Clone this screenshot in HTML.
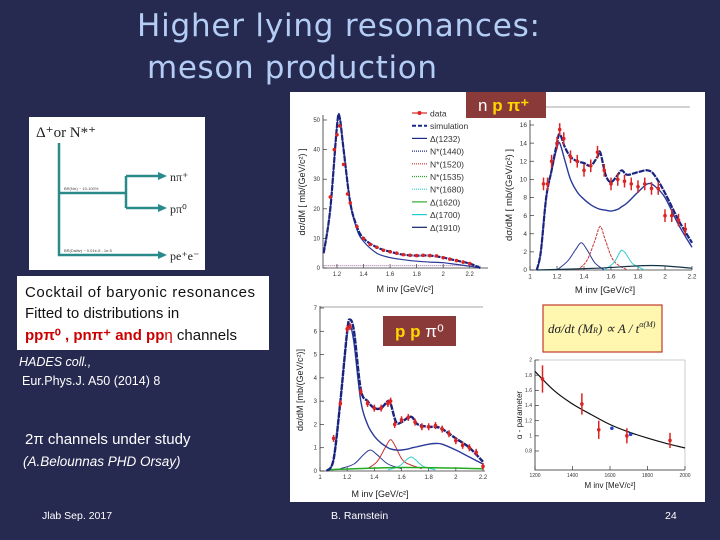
<!DOCTYPE html>
<html><head><meta charset="utf-8"><style>
body{margin:0;background:#262a50;}
#s{position:relative;width:720px;height:540px;overflow:hidden;background:#262a50;font-family:"Liberation Sans",sans-serif;}
</style></head><body>
<div id="s">
<svg id="g" width="720" height="540" viewBox="0 0 720 540" xmlns="http://www.w3.org/2000/svg">
<text x="137" y="36" font-size="31" fill="#b4cdf5" textLength="403" font-family="'DejaVu Sans',sans-serif">Higher lying resonances:</text>
<text x="147" y="78" font-size="31" fill="#b4cdf5" textLength="290" font-family="'DejaVu Sans',sans-serif">meson production</text>
<rect x="290" y="92" width="415" height="410" fill="#fff"/>
<g>
<rect x="29" y="117" width="176" height="153" fill="#fff"/>
<text x="36" y="137" font-size="15" font-family="'Liberation Serif',serif" fill="#222">Δ⁺or N*⁺</text>
<g stroke="#2a8a8a" stroke-width="2.5" fill="none">
<path d="M59 143V255H160M59 193H126M126 176V208M126 176H160M126 208H160"/></g>
<g fill="#2a8a8a"><path d="M158 172l9 4-9 4z"/><path d="M158 204l9 4-9 4z"/><path d="M158 251l9 4-9 4z"/></g>
<text x="170" y="181" font-size="12" font-family="'Liberation Serif',serif" fill="#222">nπ⁺</text>
<text x="170" y="213" font-size="12" font-family="'Liberation Serif',serif" fill="#222">pπ⁰</text>
<text x="170" y="260" font-size="12" font-family="'Liberation Serif',serif" fill="#222">pe⁺e⁻</text>
<text x="64" y="190" font-size="4" fill="#444">BR(Nπ) ~ 10-100%</text>
<text x="64" y="252" font-size="4" fill="#444">BR(Dalitz) ~ 0.01e-5 - 1e-5</text>
</g>
<g>
<rect x="17" y="276" width="252" height="74" fill="#fff"/>
<text x="25" y="297" font-size="15" fill="#111" textLength="230">Cocktail of baryonic resonances</text>
<text x="25" y="318" font-size="15" fill="#111">Fitted to distributions in</text>
<text x="25" y="340" font-size="15" fill="#111"><tspan fill="#c00" font-weight="bold">ppπ⁰ , pnπ⁺  and pp</tspan><tspan fill="#c00">η</tspan> channels</text>
</g>
<text x="19" y="366" font-size="12.5" font-style="italic" fill="#fff">HADES coll.,</text>
<text x="22" y="385" font-size="12.5" fill="#fff">Eur.Phys.J. A50 (2014) 8</text>
<text x="25" y="444" font-size="15" fill="#fff">2π channels under study</text>
<text x="23" y="466" font-size="13.5" font-style="italic" fill="#fff">(A.Belounnas PHD Orsay)</text>
<text x="42" y="519" font-size="10.5" fill="#fff">Jlab Sep. 2017</text>
<text x="331" y="519" font-size="10.5" fill="#fff">B. Ramstein</text>
<text x="665" y="519" font-size="10.5" fill="#fff">24</text>
<g><rect x="466" y="92" width="80" height="26" fill="#8b3a3a"/>
<text x="478" y="111" font-size="17" fill="#fff">n <tspan fill="#ffd700" font-weight="bold">p π⁺</tspan></text></g>
<line x1="546" y1="107" x2="690" y2="107" stroke="#888" stroke-width="0.7"/>
<line x1="320" y1="307" x2="483" y2="307" stroke="#888" stroke-width="0.7"/>
<g><rect x="383" y="316" width="73" height="30" fill="#8b3a3a"/>
<text x="395" y="337" font-size="17" fill="#fff"><tspan fill="#ffd700" font-weight="bold">p p</tspan> π⁰</text></g>
<g><rect x="543" y="305" width="119" height="47" fill="#fff6b0" stroke="#c0392b" stroke-width="1.2"/>
<text x="548" y="333" font-size="13" font-style="italic" font-family="'Liberation Serif',serif" fill="#222">dσ/dt (M<tspan font-size="8">R</tspan>) ∝ A / t<tspan font-size="8" dy="-6">α(M)</tspan></text></g>
<g id="charts"></g>
</svg>
</div>
<script>
// ---- Top-left: n p pi+ (p pi+ invariant mass) ----
const tlX=[1.1,1.15,1.2,1.22,1.25,1.3,1.35,1.4,1.5,1.6,1.7,1.8,1.9,2.0,2.1,2.2,2.28];
const tlSim=[5,20,48,51,40,22,14,10,7,5.5,4.5,4.2,4.2,3.5,2.5,1.5,0];
const tlDelta=[5,20,48,51,40,22,13,9,5,3.5,2.8,2.3,2,1.8,1.2,0.6,0];
const tlDataX=[1.15,1.18,1.2,1.22,1.25,1.28,1.3,1.35,1.4,1.45,1.5,1.55,1.6,1.65,1.7,1.75,1.8,1.85,1.9,1.95,2.0,2.05,2.1,2.15,2.2];
const tlDataY=[24,40,45,48,35,25,22,14,10,8,7,6,5.5,5,4.5,4.3,4.2,4.3,4.2,4.1,3.5,3,2.5,2,1.5];
const tlTicksX=[1.2,1.4,1.6,1.8,2,2.2];const tlTicksY=[0,10,20,30,40,50];
const legendLabels=["data","simulation","Δ(1232)","N*(1440)","N*(1520)","N*(1535)","N*(1680)","Δ(1620)","Δ(1700)","Δ(1910)"];
const legendColors=["#d22","#1a2a8a","#1a2a8a","#1a2a8a","#c33","#2a2","#3cc","#3a3","#2cc","#112266"];
// ---- Top-right: n pi+ ----
const trX=[1.05,1.08,1.12,1.16,1.2,1.22,1.26,1.3,1.35,1.4,1.45,1.5,1.52,1.56,1.6,1.65,1.68,1.72,1.8,1.87,1.92,2.0,2.1,2.2];
const trSim=[0,2,8,11,14,15,13.5,12.5,12,11.8,11.5,12.5,13,10.5,9.7,10.5,11,10.5,10.8,11,10.5,8.5,5.5,3];
const trDelta=[0,2,8,11,13.5,14,12,10,8.6,7.8,7.2,6.8,6.7,6.6,6.5,6.7,7,7.4,8.6,9.5,9.3,8,5,2.5];
const trBX=[1.2,1.28,1.34,1.38,1.42,1.48,1.55];const trBY=[0,1,2.3,3,2.3,0.8,0];
const trRX=[1.35,1.42,1.48,1.52,1.56,1.62,1.72];const trRY=[0,1,3.2,4.8,3.2,1,0];
const trCX=[1.55,1.62,1.66,1.68,1.71,1.76,1.85];const trCY=[0,0.8,1.8,2.2,1.8,0.7,0];
const trDataX=[1.1,1.13,1.16,1.2,1.22,1.25,1.3,1.35,1.4,1.45,1.5,1.55,1.6,1.65,1.7,1.75,1.8,1.85,1.9,1.95,2.0,2.05,2.1,2.15];
const trDataY=[9.5,9.5,12,14,15.5,14.5,12.5,12,11,11.5,13,11,9.5,10,9.8,9.5,9.2,9.5,9,9,6,6,5.5,4.5];
const trTicksX=[1,1.2,1.4,1.6,1.8,2,2.2];const trTicksY=[0,2,4,6,8,10,12,14,16];
// ---- Bottom-left: p p pi0 ----
const blX=[1.05,1.1,1.15,1.2,1.22,1.25,1.3,1.35,1.4,1.45,1.5,1.52,1.56,1.6,1.65,1.68,1.72,1.8,1.85,1.9,2.0,2.1,2.2];
const blSim=[0,0.5,3,6,6.5,6,3.5,3,2.7,2.7,3,2.9,2.1,2.1,2.3,2.3,2,1.9,1.9,1.8,1.4,1.0,0.4];
const blDelta=[0,0.5,3,5.9,6.3,5.5,3,2,1.5,1.2,1.0,0.95,0.9,0.9,0.95,1.0,1.05,1.15,1.18,1.15,0.9,0.6,0.3];
const blBX=[1.15,1.25,1.32,1.37,1.42,1.5,1.6];const blBY=[0.1,0.3,0.7,0.9,0.7,0.3,0.1];
const blRX=[1.35,1.42,1.48,1.52,1.56,1.62,1.75];const blRY=[0.1,0.4,1.0,1.35,1.0,0.4,0.1];
const blCX=[1.5,1.58,1.64,1.67,1.7,1.76,1.85];const blCY=[0.05,0.2,0.5,0.6,0.5,0.2,0.05];
const blDataX=[1.1,1.15,1.2,1.22,1.3,1.35,1.4,1.45,1.5,1.52,1.55,1.6,1.65,1.7,1.75,1.8,1.85,1.9,1.95,2.0,2.05,2.1,2.15,2.2];
const blDataY=[1.4,2.9,6.1,6.2,3.4,2.9,2.7,2.7,2.9,3.0,2.0,2.2,2.3,2.1,1.9,1.9,1.95,1.8,1.6,1.3,1.1,1.0,0.8,0.2];
const blTicksX=[1,1.2,1.4,1.6,1.8,2,2.2];const blTicksY=[0,1,2,3,4,5,6,7];
// ---- Bottom-right: alpha parameter ----
const brFitX=[1200,1300,1400,1500,1600,1700,1800,1900,2000];
const brFitY=[1.85,1.6,1.42,1.28,1.15,1.05,0.97,0.9,0.84];
const brPtX=[1240,1450,1540,1690,1920];const brPtY=[1.75,1.42,1.08,1.0,0.94];const brPtErr=[0.18,0.14,0.12,0.1,0.1];
const brBlueX=[1610,1710];const brBlueY=[1.1,1.02];
const brTicksX=[1200,1400,1600,1800,2000];const brTicksY=[0.8,1,1.2,1.4,1.6,1.8,2];

const NS="http://www.w3.org/2000/svg";const root=document.getElementById('charts');
function mk(t,a,p){const e=document.createElementNS(NS,t);for(const k in a)e.setAttribute(k,a[k]);(p||root).appendChild(e);return e;}
function lin(d0,d1,r0,r1){return v=>r0+(v-d0)/(d1-d0)*(r1-r0);}
function line(xs,ys,sx,sy,st,w,dash,name,g){
 const P=xs.map((x,i)=>[sx(x),sy(ys[i])]);
 let d='M'+P[0][0].toFixed(1)+' '+P[0][1].toFixed(1);
 for(let i=0;i<P.length-1;i++){const p0=P[Math.max(i-1,0)],p1=P[i],p2=P[i+1],p3=P[Math.min(i+2,P.length-1)];
  const c1=[p1[0]+(p2[0]-p0[0])/6,p1[1]+(p2[1]-p0[1])/6],c2=[p2[0]-(p3[0]-p1[0])/6,p2[1]-(p3[1]-p1[1])/6];
  d+=`C${c1[0].toFixed(1)} ${c1[1].toFixed(1)} ${c2[0].toFixed(1)} ${c2[1].toFixed(1)} ${p2[0].toFixed(1)} ${p2[1].toFixed(1)}`;}
 const e=mk('path',{d:d,fill:'none',stroke:st,'stroke-width':w,'stroke-dasharray':dash||'none'},g);
 
 return e;}
function pts(xs,ys,sx,sy,col,r,name,g,err){xs.forEach((x,i)=>{if(err){const l=mk('line',{x1:sx(x),x2:sx(x),y1:sy(ys[i]-err[i]),y2:sy(ys[i]+err[i]),stroke:col,'stroke-width':1.5},g);}
 const c=mk('circle',{cx:sx(x),cy:sy(ys[i]),r:r,fill:col},g);
 
 });}
function axes(g,x0,x1,y0,y1,sx,sy,tx,ty,fs,xl,yl,xlx,xly,ylx,yly){
 mk('path',{d:`M${x0} ${y1}V${y0}H${x1}`,fill:'none',stroke:'#333','stroke-width':0.8},g);
 tx.forEach(v=>{mk('line',{x1:sx(v),x2:sx(v),y1:y0,y2:y0-4,stroke:'#333','stroke-width':0.7},g);const t=mk('text',{x:sx(v),y:y0+fs+2,'font-size':fs,'text-anchor':'middle',fill:'#333'},g);t.textContent=v;});
 ty.forEach(v=>{mk('line',{x1:x0,x2:x0+4,y1:sy(v),y2:sy(v),stroke:'#333','stroke-width':0.7},g);const t=mk('text',{x:x0-3,y:sy(v)+fs/3,'font-size':fs,'text-anchor':'end',fill:'#333'},g);t.textContent=v;});
 const a=mk('text',{x:xlx,y:xly,'font-size':fs+3,'text-anchor':'middle',fill:'#222'},g);a.textContent=xl;
 const b=mk('text',{x:0,y:0,'font-size':fs+3,'text-anchor':'middle',fill:'#222',transform:`translate(${ylx},${yly}) rotate(-90)`},g);b.textContent=yl;}
function grp(n){const g=mk('g',{});return g;}
// TL
{const g=grp('chart-p-piplus');const sx=lin(1.1,2.3,323.7,483),sy=lin(0,50,268,120);
 axes(g,323,488,268,115,sx,sy,tlTicksX,tlTicksY,6,'M inv [GeV/c²]','dσ/dM [ mb/(GeV/c²) ]',405,292,305,192);
 line(tlX,tlX.map(()=>0.8),sx,sy,'#a6a','1','1 1','n1440-curve',g);
 line(tlX,tlDelta,sx,sy,'#2a3a9a',1.2,null,'delta1232-curve',g);
 line(tlX,tlSim,sx,sy,'#1a237e',2.2,'6 1','simulation-curve',g);
 pts(tlDataX,tlDataY,sx,sy,'#d22',1.8,'data-point',g);
 legendLabels.forEach((l,i)=>{const y=113+i*12.7;const col=legendColors[i];
  mk('line',{x1:412,x2:427,y1:y,y2:y,stroke:col,'stroke-width':i==1?2:1.2,'stroke-dasharray':(i==1?'4 2':(i>=3&&i<=6)?'1 1':'none')},g);
  if(i==0)mk('circle',{cx:419.5,cy:y,r:2,fill:col},g);
  const t=mk('text',{x:430,y:y+3.5,'font-size':8.5,fill:'#333'},g);t.textContent=l;
  
  });}
// TR
{const g=grp('chart-n-piplus');const sx=lin(1,2.2,530,692),sy=lin(0,16,270,125);
 axes(g,530,692,270,120,sx,sy,trTicksX,trTicksY,6.5,'M inv [GeV/c²]','dσ/dM [ mb/(GeV/c²) ]',605,293,512,195);
 line(trBX,trBY,sx,sy,'#2a3a9a',1,null,'n1440-curve',g);
 line(trRX,trRY,sx,sy,'#c33',1,'3 1','n1520-curve',g);
 line(trCX,trCY,sx,sy,'#3cc',1,null,'n1680-curve',g);
 line([1.05,1.5,1.9,2.2],[0,0.2,0.5,0.2],sx,sy,'#134',1.2,null,'delta1910-curve',g);
 line(trX,trDelta,sx,sy,'#2a3a9a',1.4,null,'delta1232-curve',g);
 line(trX,trSim,sx,sy,'#1a237e',2.2,'6 1','simulation-curve',g);
 pts(trDataX,trDataY,sx,sy,'#d22',1.8,'data-point',g,trDataY.map(()=>0.7));}
// BL
{const g=grp('chart-p-pi0');const sx=lin(1,2.2,320,483),sy=lin(0,7,471,308);
 axes(g,320,485,471,306,sx,sy,blTicksX,blTicksY,6,'M inv [GeV/c²]','dσ/dM  [mb/(GeV/c²)]',380,497,303,390);
 line(blBX,blBY,sx,sy,'#2a3a9a',1,null,'n1440-curve',g);
 line(blRX,blRY,sx,sy,'#c33',1,null,'n1520-curve',g);
 line(blCX,blCY,sx,sy,'#3cc',1,null,'n1680-curve',g);
 line([1.05,1.6,2.2],[0.05,0.15,0.1],sx,sy,'#2a2',1.5,null,'delta1620-curve',g);
 line(blX,blDelta,sx,sy,'#2a3a9a',1.4,null,'delta1232-curve',g);
 line(blX,blSim,sx,sy,'#1a237e',2.4,'6 1','simulation-curve',g);
 pts(blDataX,blDataY,sx,sy,'#d22',1.8,'data-point',g,blDataY.map(()=>0.15));}
// BR
{const g=grp('chart-alpha-parameter');const sx=lin(1200,2000,535,685),sy=lin(0.8,2,451,360);
 mk('rect',{x:535,y:360,width:150,height:110,fill:'none',stroke:'#aaa','stroke-width':0.6},g);
 axes(g,535,685,470,360,sx,sy,brTicksX,brTicksY,5,'M inv [MeV/c²]','α - parameter',610,488,522,415);
 line(brFitX,brFitY,sx,sy,'#111',1.2,null,'fit-curve',g);
 pts(brPtX,brPtY,sx,sy,'#d22',1.8,'alpha-point',g,brPtErr);
 pts(brBlueX,brBlueY,sx,sy,'#24c',1.8,'alpha-point-blue',g);}
</script>
</body></html>
